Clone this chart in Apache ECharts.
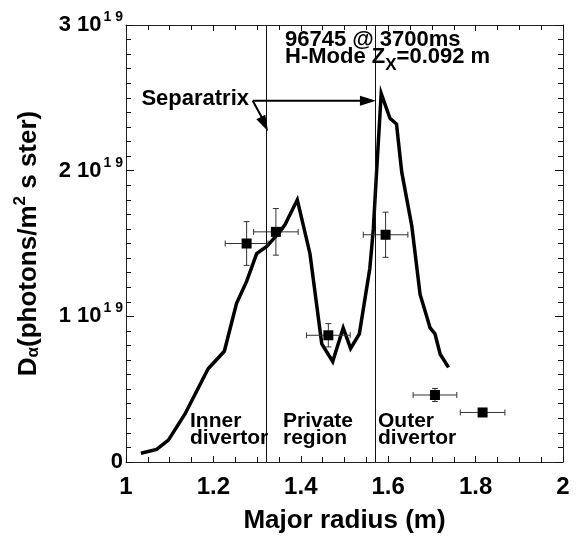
<!DOCTYPE html>
<html>
<head>
<meta charset="utf-8">
<title>D-alpha profile vs major radius</title>
<script src="https://cdn.jsdelivr.net/npm/echarts@6/dist/echarts.min.js"></script>
<style>
    html, body { margin: 0; padding: 0; background: #fff; }
    #dalpha_profile { width: 581px; height: 541px; }
</style>
</head>
<body>
<div id="dalpha_profile"></div>
<script>

// Chart data
// ------------------------------

// Simulated D-alpha profile (solid line), intensity in units of 1e19
var profileR = [1.034, 1.070, 1.097, 1.135, 1.188, 1.225, 1.253, 1.276, 1.299, 1.322, 1.352, 1.364, 1.392, 1.421, 1.448, 1.473, 1.497, 1.514, 1.534, 1.558, 1.566, 1.572, 1.584, 1.604, 1.619, 1.631, 1.654, 1.673, 1.696, 1.707, 1.719, 1.738];
var profileD = [0.06, 0.086, 0.15, 0.33, 0.64, 0.76, 1.09, 1.24, 1.43, 1.48, 1.58, 1.63, 1.80, 1.43, 0.81, 0.69, 0.92, 0.78, 0.88, 1.33, 1.60, 1.92, 2.53, 2.36, 2.32, 1.99, 1.62, 1.15, 0.92, 0.88, 0.74, 0.65];

// Measured points with error bars
var measR = [1.276, 1.343, 1.463, 1.594, 1.707, 1.816];
var measD = [1.50, 1.58, 0.87, 1.56, 0.46, 0.34];
var measRErr = [0.049, 0.051, 0.050, 0.051, 0.050, 0.051];
var measDErr = [0.15, 0.16, 0.08, 0.155, 0.045, 0];

// Separatrix strike points
var separatrixR = [1.325, 1.572];

// Axis ticks
var radiusTicks = [1, 2, 0.2];
var intensityTicks = [0, 3, 1];


// Setup module
// ------------------------------

var DalphaProfile = function() {

    var FONT = '"Liberation Sans", Arial, Helvetica, sans-serif';

    var _dalphaProfile = function() {
        if (typeof echarts == 'undefined') {
            console.warn('Warning - echarts.min.js is not loaded.');
            return;
        }

        // Define element
        var profile_element = document.getElementById('dalpha_profile');
        if (!profile_element) {
            return;
        }

        // Initialize chart
        var profile_chart = echarts.init(profile_element, null, { renderer: 'canvas' });

        var profileData = profileR.map(function(r, i) { return [r, profileD[i]]; });
        var measData = measR.map(function(r, i) { return [r, measD[i], measRErr[i], measDErr[i]]; });

        var xAxisBase = {
            type: 'value',
            min: radiusTicks[0],
            max: radiusTicks[1],
            interval: radiusTicks[2],
            axisLine: { show: true, onZero: false, lineStyle: { color: '#222', width: 1 } },
            axisTick: { show: true, inside: true, length: 6, lineStyle: { color: '#111', width: 1 } },
            minorTick: { show: true, splitNumber: 4, length: 5, lineStyle: { color: '#111', width: 1 } },
            splitLine: { show: false },
            minorSplitLine: { show: false }
        };

        var yAxisBase = {
            type: 'value',
            min: intensityTicks[0],
            max: intensityTicks[1],
            interval: intensityTicks[2],
            axisLine: { show: true, onZero: false, lineStyle: { color: '#222', width: 1 } },
            axisTick: { show: true, inside: true, length: 8, lineStyle: { color: '#111', width: 1 } },
            minorTick: { show: true, splitNumber: 10, length: 5, lineStyle: { color: '#111', width: 1 } },
            splitLine: { show: false },
            minorSplitLine: { show: false }
        };

        // Options
        profile_chart.setOption({
            animation: false,
            textStyle: { fontFamily: FONT },

            grid: { left: 126, right: 18, top: 21, bottom: 79 },

            xAxis: [
                Object.assign({}, xAxisBase, {
                    position: 'bottom',
                    name: 'Major radius (m)',
                    nameLocation: 'middle',
                    nameGap: 46,
                    nameTextStyle: { fontSize: 26, fontWeight: 'bold', color: '#000', fontFamily: FONT },
                    axisLabel: {
                        margin: 13,
                        fontSize: 24,
                        fontWeight: 'bold',
                        color: '#000',
                        fontFamily: FONT
                    }
                }),
                Object.assign({}, xAxisBase, {
                    position: 'top',
                    axisLabel: { show: false }
                })
            ],

            yAxis: [
                Object.assign({}, yAxisBase, {
                    position: 'left',
                    name: '{b|D}{sub|α}{b|(photons/m}{sup|2}{b| s ster)}',
                    nameLocation: 'middle',
                    nameGap: 84,
                    nameRotate: 90,
                    nameTextStyle: {
                        fontFamily: FONT,
                        rich: {
                            b: { fontSize: 26, fontWeight: 'bold', color: '#000', fontFamily: FONT, lineHeight: 30, verticalAlign: 'bottom' },
                            sub: { fontSize: 17, fontWeight: 'bold', color: '#000', fontFamily: FONT, lineHeight: 16, verticalAlign: 'bottom' },
                            sup: { fontSize: 17, fontWeight: 'bold', color: '#000', fontFamily: FONT, lineHeight: 16, verticalAlign: 'top' }
                        }
                    },
                    axisLabel: {
                        margin: 3,
                        formatter: function(v) {
                            return v === 0 ? '{m|0}' : '{m|' + v + ' 10}{e|1 9}';
                        },
                        rich: {
                            m: { fontSize: 22, fontWeight: 'bold', color: '#000', fontFamily: FONT, lineHeight: 22, padding: [14, 0, 0, 0], verticalAlign: 'bottom' },
                            e: { fontSize: 14, fontWeight: 'bold', color: '#000', fontFamily: FONT, lineHeight: 14, padding: [0, 0, 12, 2], verticalAlign: 'bottom' }
                        }
                    }
                }),
                Object.assign({}, yAxisBase, {
                    position: 'right',
                    axisLabel: { show: false }
                })
            ],

            series: [
                {
                    name: 'D-alpha profile',
                    type: 'line',
                    xAxisIndex: 0,
                    yAxisIndex: 0,
                    data: profileData,
                    symbol: 'none',
                    lineStyle: { color: '#000', width: 3.5, join: 'miter' },
                    markLine: {
                        silent: true,
                        symbol: 'none',
                        label: { show: false },
                        lineStyle: { color: '#111', width: 1, type: 'solid' },
                        data: separatrixR.map(function(v) { return { xAxis: v }; })
                    },
                    z: 3
                },
                {
                    name: 'Measured',
                    type: 'custom',
                    xAxisIndex: 0,
                    yAxisIndex: 0,
                    data: measData,
                    encode: { x: 0, y: 1 },
                    renderItem: function(params, api) {
                        var r = api.value(0), d = api.value(1), er = api.value(2), ed = api.value(3);
                        var c = api.coord([r, d]);
                        var left = api.coord([r - er, d]);
                        var right = api.coord([r + er, d]);
                        var cap = 3;
                        var bar = { stroke: '#333', lineWidth: 1 };
                        var children = [
                            { type: 'line', shape: { x1: left[0], y1: c[1], x2: right[0], y2: c[1] }, style: bar },
                            { type: 'line', shape: { x1: left[0], y1: c[1] - cap, x2: left[0], y2: c[1] + cap }, style: bar },
                            { type: 'line', shape: { x1: right[0], y1: c[1] - cap, x2: right[0], y2: c[1] + cap }, style: bar }
                        ];
                        if (ed > 0) {
                            var top = api.coord([r, d + ed]);
                            var bottom = api.coord([r, d - ed]);
                            children.push(
                                { type: 'line', shape: { x1: c[0], y1: top[1], x2: c[0], y2: bottom[1] }, style: bar },
                                { type: 'line', shape: { x1: c[0] - cap, y1: top[1], x2: c[0] + cap, y2: top[1] }, style: bar },
                                { type: 'line', shape: { x1: c[0] - cap, y1: bottom[1], x2: c[0] + cap, y2: bottom[1] }, style: bar }
                            );
                        }
                        children.push({ type: 'rect', shape: { x: c[0] - 5, y: c[1] - 5, width: 10, height: 10 }, style: { fill: '#000' } });
                        return { type: 'group', children: children };
                    },
                    z: 4
                }
            ]
        });


        //
        // Annotations (arrows to the separatrix lines, labels)
        //

        var px = function(v) { return profile_chart.convertToPixel({ gridIndex: 0 }, v); };

        var arrowHead = function(from, to) {
            var dx = to[0] - from[0], dy = to[1] - from[1];
            var len = Math.sqrt(dx * dx + dy * dy);
            var ux = dx / len, uy = dy / len;
            var L = 16, W = 5;
            var bx = to[0] - ux * L, by = to[1] - uy * L;
            return {
                type: 'polygon',
                shape: { points: [[to[0], to[1]], [bx - uy * W, by + ux * W], [bx + uy * W, by - ux * W]] },
                style: { fill: '#000' },
                z: 10
            };
        };

        var corner = px([1.29, 2.48]);
        var rightTip = px([separatrixR[1], 2.48]);
        var leftTip = px([separatrixR[0], 2.27]);

        var textBold = function(size) {
            return { fontSize: size, fontWeight: 'bold', fill: '#000', fontFamily: FONT };
        };

        profile_chart.setOption({
            graphic: [
                { type: 'line', shape: { x1: corner[0], y1: corner[1], x2: rightTip[0] - 10, y2: rightTip[1] }, style: { stroke: '#000', lineWidth: 2 }, z: 10 },
                arrowHead(corner, rightTip),
                { type: 'line', shape: { x1: corner[0], y1: corner[1], x2: leftTip[0] - 3, y2: leftTip[1] - 8 }, style: { stroke: '#000', lineWidth: 2 }, z: 10 },
                arrowHead(corner, leftTip),
                {
                    type: 'text', x: 249, y: 99, z: 10,
                    style: Object.assign(textBold(22), { text: 'Separatrix', align: 'right', verticalAlign: 'middle' })
                },
                {
                    type: 'text', x: 285, y: 40, z: 10,
                    style: Object.assign(textBold(22), { text: '96745 @ 3700ms', align: 'left', verticalAlign: 'middle' })
                },
                {
                    type: 'text', x: 285, y: 57, z: 10,
                    style: Object.assign(textBold(22), {
                        text: '{b|H-Mode Z}{s|X}{b|=0.092 m}',
                        align: 'left',
                        verticalAlign: 'middle',
                        rich: {
                            b: textBold(22),
                            s: Object.assign(textBold(17), { padding: [16, 0, 0, 0] })
                        }
                    })
                },
                {
                    type: 'text', x: 190, y: 413, z: 10,
                    style: Object.assign(textBold(21), { text: 'Inner\ndivertor', align: 'left', verticalAlign: 'top', lineHeight: 17 })
                },
                {
                    type: 'text', x: 283, y: 413, z: 10,
                    style: Object.assign(textBold(21), { text: 'Private\nregion', align: 'left', verticalAlign: 'top', lineHeight: 17 })
                },
                {
                    type: 'text', x: 378, y: 413, z: 10,
                    style: Object.assign(textBold(21), { text: 'Outer\ndivertor', align: 'left', verticalAlign: 'top', lineHeight: 17 })
                }
            ]
        });


        //
        // Resize chart
        //

        var resizeChart;
        window.addEventListener('resize', function() {
            clearTimeout(resizeChart);
            resizeChart = setTimeout(function() {
                profile_chart.resize();
            }, 200);
        });
    };

    return {
        init: function() {
            _dalphaProfile();
        }
    };
}();


// Initialize module
// ------------------------------

document.addEventListener('DOMContentLoaded', function() {
    DalphaProfile.init();
});
</script>
</body>
</html>
